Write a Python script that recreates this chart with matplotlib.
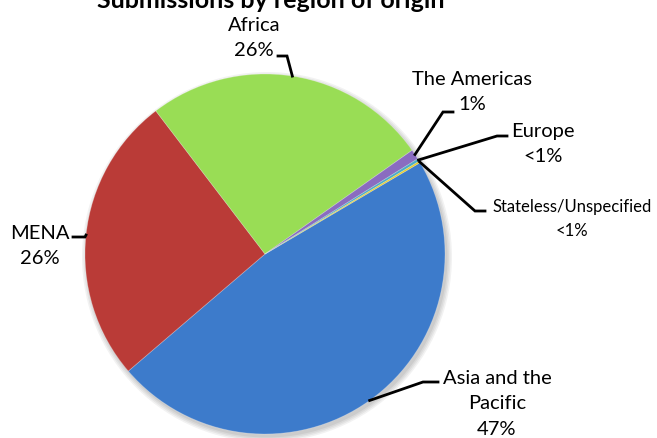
import matplotlib.pyplot as plt
from matplotlib.patches import Circle
import numpy as np

# data
regions = ['Asia and the\nPacific', 'MENA', 'Africa', 'The Americas', 'Europe', 'Stateless/Unspecified']
shares = [47.2, 25.9, 25.6, 0.9, 0.25, 0.15]
colors = ['#3D7BCB', '#BA3B37', '#99DD55', '#8A6CC0', '#4BACC6', '#E6CC20']

W, H = 657, 439
cx, cy, r = 265, 255, 180   # pie centre / radius in pixels (from top)


def fy(y):
    return H - y


# label block centre, font size and elbow of the leader line
label_pos = [(497, 404), (40, 246), (254, 38), (472, 92), (543, 144), (572, 219)]
label_size = [14.5, 14.5, 14.5, 14.5, 14.5, 12]
elbows = [[(438, 383), (423, 383)],
          [(73, 238), (85, 238)],
          [(278, 57), (287, 57)],
          [(453, 113), (443, 113)],
          [(507, 137), (497, 137)],
          [(485, 212), (475, 212)]]

plt.rcParams['font.family'] = ['Lato', 'DejaVu Sans']

fig = plt.figure(figsize=(W / 100, H / 100), dpi=100)
ax = fig.add_axes([0, 0, 1, 1])

# soft shadow
for i, a in enumerate([0.05, 0.05, 0.05, 0.06]):
    ax.add_patch(Circle((cx + 2, fy(cy) - 3), r + 5 - i * 1.5, color='black', alpha=a, lw=0, zorder=0))

wedges, _ = ax.pie(shares, colors=colors, startangle=30.5, counterclock=False,
                   center=(cx, fy(cy)), radius=r, frame=True,
                   wedgeprops=dict(edgecolor=(1, 1, 1, 0.25), linewidth=0.6))
ax.set_xlim(0, W)
ax.set_ylim(0, H)
ax.set_aspect('equal')
ax.axis('off')

for w, name, v, (tx, ty), fs, el in zip(wedges, regions, shares, label_pos, label_size, elbows):
    mid = np.deg2rad((w.theta1 + w.theta2) / 2)
    ax_pt = (cx + r * np.cos(mid), fy(cy) + r * np.sin(mid))
    xs = [el[0][0], el[1][0], ax_pt[0]]
    ys = [fy(el[0][1]), fy(el[1][1]), ax_pt[1]]
    ax.plot(xs, ys, color='black', lw=2, solid_joinstyle='miter', zorder=5)
    pct = '<1%' if v < 0.5 else f'{v:.0f}%'
    ls = 1.62 if fs > 13 else 1.65
    ax.text(tx, fy(ty), name + '\n' + pct, ha='center', va='center', fontsize=fs,
            linespacing=ls, multialignment='center')

ax.text(cx + 6, fy(8), 'Submissions by region of origin', ha='center', va='baseline',
        fontsize=18, fontweight='bold')

fig.savefig('out.png', dpi=100)
